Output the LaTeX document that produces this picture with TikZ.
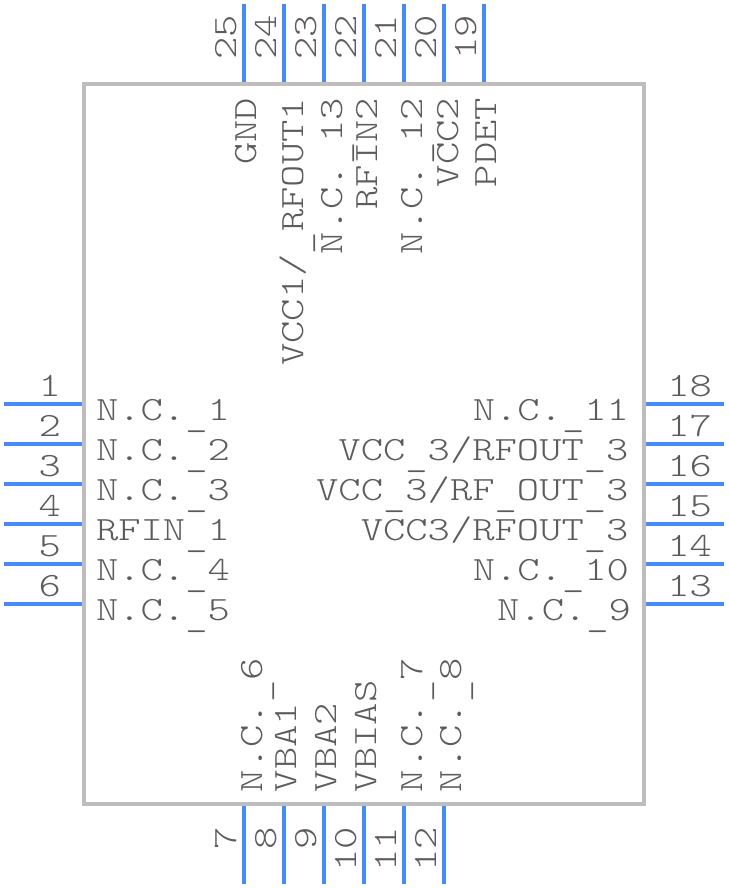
\documentclass[tikz,border=0pt]{standalone}
\usepackage{fontspec}
\setmonofont[FakeStretch=1.25]{Latin Modern Mono Light}
\usepackage{tikz}
\usetikzlibrary{positioning}
\definecolor{BodyGray}{RGB}{189, 189, 189}
\definecolor{PinBlue}{RGB}{70, 140, 248}
\definecolor{TextGray}{RGB}{92, 92, 92}
\newcommand{\lowbar}{\raisebox{-6.5pt}{\_}}
\tikzset{
  pinline/.style={draw=PinBlue, line width=4pt},
  bodybox/.style={draw=BodyGray, line width=4pt, minimum width=560pt, minimum height=720pt, inner sep=0pt, outer sep=0pt},
  pintext/.style={text=TextGray, font=\ttfamily\fontsize{34pt}{38pt}\selectfont, inner sep=0pt, outer sep=0pt},
}
\begin{document}
\begin{tikzpicture}[x=1pt, y=-1pt]
\useasboundingbox (0,0) rectangle (728,888);
\foreach \n/\py/\lab in {1/404/{N.C.\lowbar1}, 2/444/{N.C.\lowbar2}, 3/484/{N.C.\lowbar3}, 4/524/{RFIN\lowbar1}, 5/564/{N.C.\lowbar4}, 6/604/{N.C.\lowbar5}} {
  \coordinate (pin\n) at (4,\py);
  \coordinate (end\n) at (84,\py);
  \draw[pinline] (pin\n) -- (end\n);
  \node[pintext, anchor=base east] (num\n) at (61,\py-8) {\n};
  \node[pintext, anchor=base west] (lab\n) at (96,\py+16) {\lab};
}
\foreach \n/\py/\ex/\lab in {18/404/629/{N.C.\lowbar11}, 17/444/628.5/{VCC\lowbar3/RFOUT\lowbar3}, 16/484/628.5/{VCC\lowbar3/RF\lowbar OUT\lowbar3}, 15/524/628.5/{VCC3/RFOUT\lowbar3}, 14/564/629/{N.C.\lowbar10}, 13/604/631/{N.C.\lowbar9}} {
  \coordinate (pin\n) at (724,\py);
  \coordinate (end\n) at (644,\py);
  \draw[pinline] (pin\n) -- (end\n);
  \node[pintext, anchor=base east] (num\n) at (712,\py-8) {\n};
  \node[pintext, anchor=base east] (lab\n) at (\ex,\py+16) {\lab};
}
\foreach \n/\px/\bx/\lab in {25/244/256/{GND}, 24/284/303/{VCC1/\lowbar RFOUT1}, 23/324/342/{N.C.\lowbar13}, 22/364/377/{RFIN2}, 21/404/422/{N.C.\lowbar12}, 20/444/458/{VCC2}, 19/484/496/{PDET}} {
  \coordinate (pin\n) at (\px,4);
  \coordinate (end\n) at (\px,84);
  \draw[pinline] (pin\n) -- (end\n);
  \node[pintext, rotate=90, anchor=base east] (num\n) at (\px-8,15) {\n};
  \node[pintext, rotate=90, anchor=base east] (lab\n) at (\bx,98) {\lab};
}
\foreach \n/\px/\bx/\lab in {7/244/262/{N.C.\lowbar6}, 8/284/296/{VBA1}, 9/324/336/{VBA2}, 10/364/376/{VBIAS}, 11/404/422/{N.C.\lowbar7}, 12/444/461/{N.C.\lowbar8}} {
  \coordinate (pin\n) at (\px,884);
  \coordinate (end\n) at (\px,804);
  \draw[pinline] (pin\n) -- (end\n);
  \node[pintext, rotate=90, anchor=base east] (num\n) at (\px-8,827) {\n};
  \node[pintext, rotate=90, anchor=base west] (lab\n) at (\bx,792) {\lab};
}
\node[bodybox] (body) at (364,444) {};
\end{tikzpicture}
\end{document}
